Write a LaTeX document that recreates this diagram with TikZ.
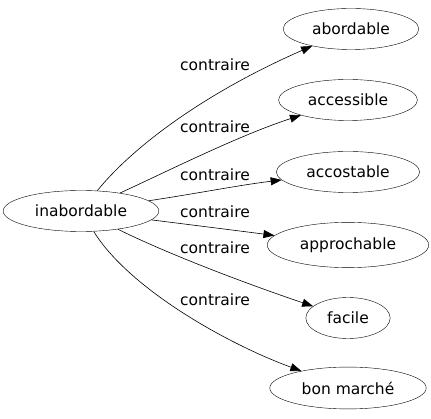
\documentclass[tikz,border=0pt]{standalone}
\usepackage{fontspec}
\setmainfont{DejaVu Sans}
\usetikzlibrary{arrows.meta,shapes.geometric}

\begin{document}
\begin{tikzpicture}[
  x=1pt, y=-1pt,
  word/.style={draw,ellipse,inner xsep=9pt,inner ysep=8.5pt,font=\fontsize{15.5}{18}\selectfont},
  rel/.style={font=\fontsize{15.5}{18}\selectfont,inner sep=0pt},
  arc/.style={-{Triangle[length=11pt,width=8pt]},semithick},
]
  \useasboundingbox (0,0) rectangle (431,419);

  \node[word] (inab) at (81,211) {inabordable};
  \node[word] (abor) at (351,29) {abordable};
  \node[word] (acce) at (348,100) {accessible};
  \node[word] (acco) at (348,172) {accostable};
  \node[word] (appr) at (348,245) {approchable};
  \node[word] (faci) at (348,318) {facile};
  \node[word] (bonm) at (348,388) {bon marché};

  % antonym edges
  \draw[arc] (inab) .. controls (130,150) and (200,95) .. (abor);
  \draw[arc] (inab) .. controls (170,170) and (240,135) .. (acce);
  \draw[arc] (inab) .. controls (200,193) and (240,185) .. (acco);
  \draw[arc] (inab) .. controls (200,226) and (240,231) .. (appr);
  \draw[arc] (inab) .. controls (170,255) and (250,285) .. (faci);
  \draw[arc] (inab) .. controls (130,290) and (230,345) .. (bonm);

  % edge labels
  \node[rel] (l1) at (215,65) {contraire};
  \node[rel] (l2) at (215,127) {contraire};
  \node[rel] (l3) at (215,175) {contraire};
  \node[rel] (l4) at (215,212) {contraire};
  \node[rel] (l5) at (215,248) {contraire};
  \node[rel] (l6) at (215,300) {contraire};
\end{tikzpicture}
\end{document}
